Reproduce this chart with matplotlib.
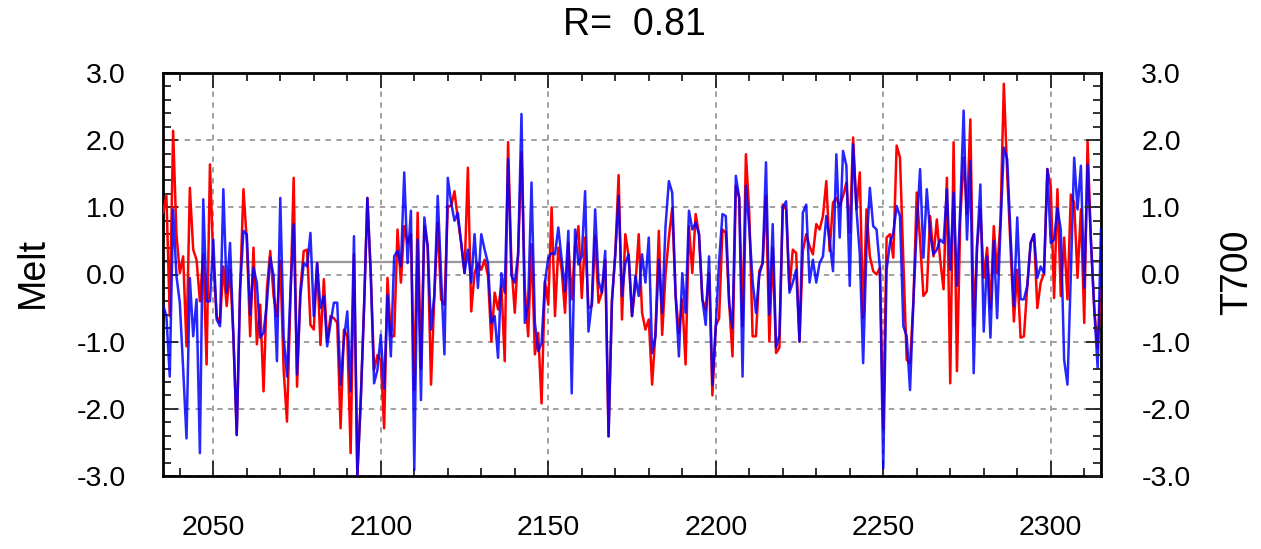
import numpy as np
import matplotlib
matplotlib.use("Agg")
import matplotlib.pyplot as plt
from matplotlib.ticker import MultipleLocator

plt.rcParams['font.family'] = ['Liberation Sans', 'DejaVu Sans']

# yearly values, 2035 .. 2315
years = np.arange(2035, 2316)

melt = [
    0.92, 1.17, -0.62, 2.14, 0.60, 0.02, 0.27, -1.07, 1.29, 0.37,      # 2035
    0.22, -0.40, 0.30, -1.34, 1.64, 0.20, -0.62, -0.72, 0.12, -0.47,   # 2045
    0.07, -0.92, -2.39, -0.20, 1.27, 0.50, -0.92, 0.40, -1.04, -0.45,  # 2055
    -1.74, -0.22, 0.35, -0.32, -0.62, 0.20, -1.42, -2.19, -0.42, 1.44, # 2065
    -1.67, -0.22, 0.35, 0.37, -0.75, -0.82, 0.17, -1.05, -0.07, -1.00, # 2075
    -0.62, -0.65, -0.72, -2.29, -0.82, -0.92, -2.66, 0.30, -3.00, -1.90,  # 2085
    -0.50, 1.14, 0.02, -1.42, -1.20, -1.27, -2.29, -0.05, -0.92, -0.92,   # 2095
    0.67, -0.12, 0.72, 0.47, 0.60, -1.72, 0.92, -1.40, 0.72, 0.42,     # 2105
    -1.64, -0.30, 0.77, -0.37, -0.45, 1.02, 1.02, 1.24, 0.82, 0.47,    # 2115
    0.02, 1.59, -0.55, 0.02, 0.17, 0.07, 0.22, -0.02, -1.00, -0.27,    # 2125
    -0.52, -0.17, -1.29, 1.97, 0.15, -0.57, 0.30, 1.82, -0.20, -0.92,  # 2135
    0.45, -1.19, -0.87, -1.92, -0.10, -0.45, 1.00, -0.62, 0.40, 0.07,  # 2145
    -0.57, 0.47, -0.37, 0.42, 0.72, -0.35, 0.55, -0.50, -0.47, 0.57,   # 2155
    -0.42, -0.27, 0.22, -2.41, -0.40, 0.30, 1.48, -0.67, 0.60, 0.27,   # 2165
    -0.62, -0.17, 0.60, -0.57, -0.82, -0.67, -1.64, -0.87, 0.65, -0.90,  # 2175
    0.00, 0.55, 0.99, -0.30, -0.87, -0.37, -1.34, 0.72, 0.02, 0.90,    # 2185
    0.60, -0.37, -0.52, 0.02, -1.80, -0.77, -0.65, 0.67, 0.62, -0.42,  # 2195
    -1.22, 1.32, 1.14, -0.77, 1.79, 0.92, -0.92, -0.92, 0.05, 0.17,    # 2205
    1.17, -1.00, 0.40, -1.17, -1.09, 1.04, 0.97, -0.22, 0.37, 0.32,    # 2215
    -1.00, 0.35, 0.60, 0.42, 0.30, 0.75, 0.67, 0.87, 1.39, 0.35,       # 2225
    1.07, 1.14, 1.02, 1.17, 1.37, 0.62, 2.04, 0.97, 1.52, -0.65,       # 2235
    0.97, 0.27, 0.05, 0.00, 0.10, -2.30, 0.55, 0.60, 0.25, 1.92,       # 2245
    1.74, 0.20, -1.27, -1.32, -0.40, 1.22, 0.50, -0.32, -0.25, 0.87,   # 2255
    0.27, 0.82, 0.22, -0.22, 1.44, -1.62, 1.97, -1.44, 0.82, 1.74,     # 2265
    0.90, 2.31, -0.77, 0.42, 0.97, -0.05, 0.40, -0.50, 0.72, 0.02,     # 2275
    0.80, 2.84, 1.50, 0.40, -0.70, 0.07, -0.94, -0.92, -0.17, 0.47,    # 2285
    0.60, -0.50, -0.12, 0.02, 1.57, 1.32, -0.35, 1.27, -0.32, 0.55,    # 2295
    -0.37, 1.19, 1.07, -0.05, 0.97, -0.72, 1.99, 0.50, -0.52, -1.10,   # 2305
    -0.20,                                                              # 2315
]

t700 = [
    -0.45, -0.62, -1.52, 0.97, -0.02, -0.42, -1.40, -2.44, -0.05, -0.92,  # 2035
    -0.37, -2.66, 1.12, -0.40, -0.40, 0.52, -0.67, -0.77, 1.27, -0.27,    # 2045
    0.47, -0.92, -2.39, -0.22, 0.65, 0.60, -0.60, 0.10, -0.12, -0.94,     # 2055
    -0.87, -0.42, 0.25, -0.02, -1.29, 1.14, -0.92, -1.52, -0.30, 0.75,    # 2065
    -1.49, -0.32, 0.17, 0.12, 0.62, -0.62, 0.17, -0.50, -0.32, -1.07,     # 2075
    -0.72, -0.42, -0.42, -1.64, -0.97, -0.55, -1.74, 0.57, -3.00, -1.90,  # 2085
    -0.50, 1.14, 0.02, -1.62, -1.42, -0.90, -1.70, -0.30, -1.22, 0.27,    # 2095
    0.35, 0.12, 1.52, 0.17, 0.95, -2.91, 0.52, -1.87, 0.85, 0.42,         # 2105
    -0.82, -0.30, 1.17, -0.02, -1.19, 1.44, 1.07, 0.80, 0.92, 0.47,       # 2115
    0.02, 0.37, -0.12, 0.60, -0.20, 0.60, 0.37, 0.17, -0.72, -0.62,       # 2125
    -1.24, 0.02, -0.27, 1.72, -0.02, -0.12, 0.30, 2.39, -0.72, -0.42,     # 2135
    1.37, -0.72, -1.14, -1.02, -0.12, 0.25, 0.32, 0.30, 0.70, 0.22,       # 2145
    -0.25, 0.65, -1.77, 0.67, 0.15, 0.27, 1.24, -0.85, -0.42, 0.97,       # 2155
    -0.10, -0.27, 0.35, -2.41, -0.40, 0.30, 1.17, -0.32, 0.17, 0.30,      # 2165
    -0.62, -0.02, -0.32, 0.30, -0.12, 0.55, -1.17, -0.92, 0.22, -0.57,    # 2175
    0.72, 1.39, 1.22, -0.30, -1.22, 0.02, -0.57, 0.95, 0.67, 0.77,        # 2185
    0.60, -0.37, -0.75, 0.27, -1.64, -0.77, 0.20, 0.90, 0.87, -0.42,      # 2195
    -0.80, 1.47, 1.14, -1.52, 1.32, 0.70, -0.10, -0.57, 0.00, 0.17,       # 2205
    1.67, -0.60, 0.75, -1.09, -0.90, 1.00, 1.09, -0.27, -0.12, 0.07,      # 2215
    -1.00, 0.92, 1.04, -0.12, 0.22, -0.12, 0.17, 0.27, 0.87, 0.50,        # 2225
    0.05, 1.79, 0.55, 1.84, 1.62, -0.17, 1.94, 0.97, 0.30, -1.32,         # 2235
    0.40, 1.29, 0.72, 0.67, 0.10, -2.89, 0.07, 0.47, 0.62, 1.02,          # 2245
    0.87, -0.77, -0.92, -1.72, -0.40, 0.70, 1.57, 0.25, 1.27, 0.60,       # 2255
    0.30, 0.37, 0.52, 0.47, 1.27, 0.07, 1.22, -0.17, 1.00, 2.44,          # 2265
    0.52, 1.69, -1.47, 0.42, 1.34, -0.85, 0.27, -0.94, 0.50, -0.65,       # 2275
    0.70, 1.89, 1.72, 0.60, -0.47, 0.85, -0.37, -0.37, -0.17, 0.47,       # 2285
    0.60, -0.05, 0.12, 0.02, 1.57, 0.47, 0.52, 0.99, 0.67, -1.27,         # 2295
    -1.64, 0.00, 1.74, 0.97, 1.62, -0.20, 1.64, 0.50, -0.52, -1.39,       # 2305
    0.67,                                                                  # 2315
]

title = "R=  0.81"
ref_level = 0.19
yticks = np.arange(-3, 3.01, 1)
ylabels = ["%.1f" % v for v in yticks]

fig = plt.figure(figsize=(12.61, 5.49), dpi=100)
ax = fig.add_axes([0.1293, 0.133, 0.7438, 0.734])

ax.axhline(ref_level, color='#999999', lw=1.6, zorder=1)
ax.plot(years, melt, color='#ff0000', lw=1.8, zorder=3)
ax.plot(years, t700, color='#0000ff', lw=1.8, alpha=0.85, zorder=4)

ax.set_xlim(2035, 2315)
ax.set_ylim(-3, 3)
ax.xaxis.set_major_locator(MultipleLocator(50))
ax.xaxis.set_minor_locator(MultipleLocator(10))
ax.yaxis.set_minor_locator(MultipleLocator(0.2))
ax.set_yticks(yticks)
ax.set_yticklabels(ylabels)
ax.grid(True, which='major', color='#999999', ls=(0, (3, 3)), lw=1.3, zorder=0)

# right axis carrying the same scale
ax2 = ax.twinx()
ax2.set_ylim(-3, 3)
ax2.set_yticks(yticks)
ax2.set_yticklabels(ylabels)
ax2.yaxis.set_minor_locator(MultipleLocator(0.2))
for s in ax2.spines.values():
    s.set_visible(False)

for a in (ax, ax2):
    a.tick_params(which='both', direction='in', labelsize=20.5,
                  width=1.3, color='#222222')
    a.tick_params(which='major', length=11, pad=29)
    a.tick_params(which='minor', length=6)
ax.tick_params(which='both', top=True, right=False)
ax.tick_params(axis='y', which='major', pad=27)
ax.tick_params(axis='x', which='major', pad=28)
for s in ax.spines.values():
    s.set_linewidth(2)

fig.text(33 / 1261, 1 - 272 / 549, "Melt", rotation=90, fontsize=27,
         ha='center', va='center')
fig.text(1237 / 1261, 1 - 272 / 549, "T700", rotation=90, fontsize=27,
         ha='center', va='center')
fig.text(634 / 1261, 1 - 25 / 549, title, fontsize=27,
         ha='center', va='center')

fig.savefig("out.png", dpi=100)
